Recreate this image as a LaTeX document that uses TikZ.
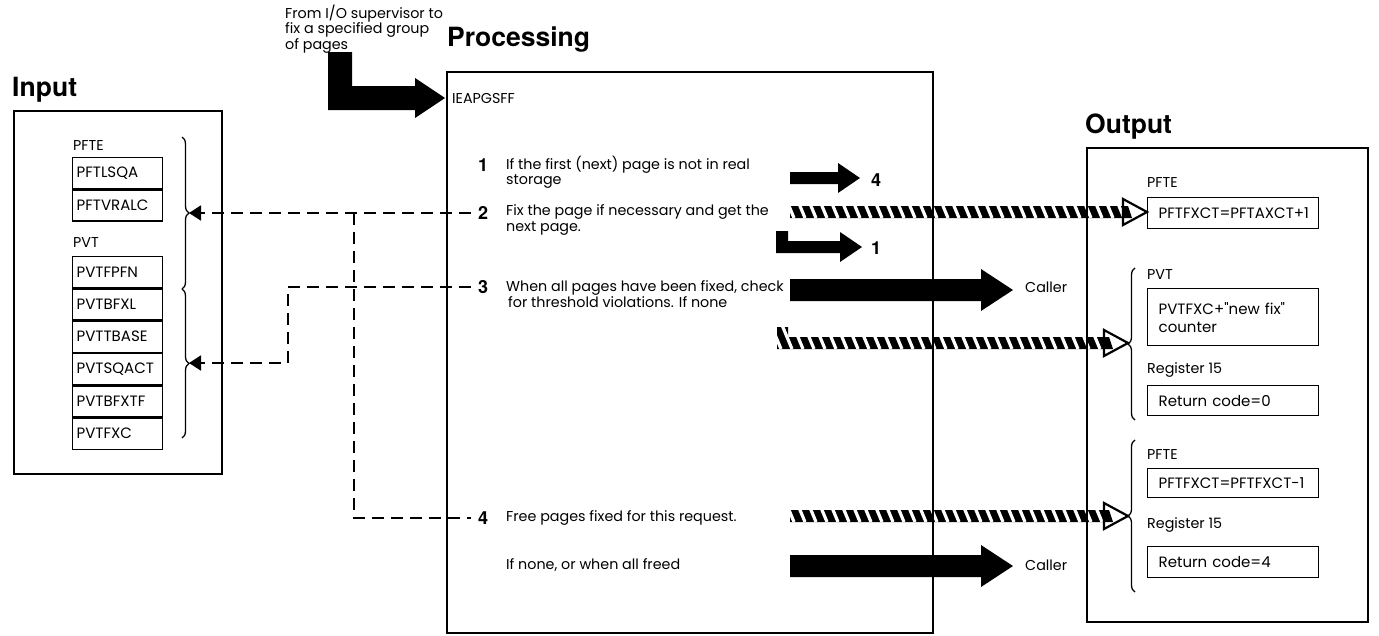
\documentclass[tikz,border=0pt]{standalone}
\usepackage{fontspec}
\setmainfont{Poppins}
\newfontfamily\heros{TeX Gyre Heros}
\newfontfamily\rawpoppins{Poppins}[Ligatures=TeXOff]
\usetikzlibrary{arrows.meta,decorations.pathreplacing}

% solid block arrow: start x, tip x, centre y, shaft thickness, head half-height, head length
\newcommand\blockarrow[6]{%
  \fill (#1,#3-#4/2) -- (#2-#6,#3-#4/2) -- (#2-#6,#3-#5) -- (#2,#3)
        -- (#2-#6,#3+#5) -- (#2-#6,#3+#4/2) -- (#1,#3+#4/2) -- cycle;}

% striped block arrow with open head: start x, tip x, centre y, height of the raised start
\newcommand\hatcharrow[4]{%
  \begin{scope}
    \clip (#1,#3-6-#4) -- (#1+11,#3-6-#4) -- (#1+11,#3-6) -- (#2-24,#3-6)
          -- (#2-24,#3+6) -- (#1,#3+6) -- cycle;
    \fill (#1-5,#3-40) rectangle (#2,#3+20);
    \foreach \k in {0,...,34}
      \draw[white, line width=3.2pt] (#1+4+11*\k-20,#3+6-48) -- (#1+4+11*\k,#3+6);
  \end{scope}
  \filldraw[fill=white, draw=black, line width=2.2pt, line join=miter]
    (#2-24,#3-13) -- (#2,#3) -- (#2-24,#3+13) -- cycle;
  \fill (#2-24,#3-6) -- (#2-19,#3-6) -- (#2-15,#3+6) -- (#2-24,#3+6) -- cycle;}

% straight double quote
\newcommand\dq{{\rawpoppins\char34}}

\begin{document}
\begin{tikzpicture}[x=1pt,y=-1pt,
  body/.style={font=\fontsize{14.3}{15.5}\selectfont, inner sep=0pt, align=left, anchor=west},
  title/.style={font=\heros\bfseries\fontsize{26.5}{30}\selectfont, inner sep=0pt, anchor=west},
  num/.style={font=\heros\bfseries\fontsize{18}{20}\selectfont, inner sep=0pt},
  frame/.style={draw, line width=2.4pt},
  infield/.style={draw, line width=1.3pt, anchor=north west, minimum height=31pt,
    text width=82pt, inner xsep=4pt, inner ysep=0pt, align=left,
    font=\fontsize{15}{16}\selectfont},
  outfield/.style={draw, line width=1.3pt, anchor=north west, minimum height=30pt,
    text width=149pt, inner xsep=11pt, inner ysep=0pt, align=left,
    font=\fontsize{15}{18}\selectfont},
  link/.style={line width=1.8pt, dash pattern=on 12pt off 7pt},
  linkarrow/.style={link, -{Triangle[length=12pt,width=15pt]}},
  brace/.style={decorate, decoration={brace, amplitude=7pt}, line width=1.3pt}
]
\useasboundingbox (0,0) rectangle (1379,635);

% ---------- titles ----------
\node[title] (tin)  at (12,90)   {Input};
\node[title] (tpro) at (447,40)  {Processing};
\node[title] (tout) at (1085,127) {Output};

% ---------- input fields ----------
\node[body] (lpfte) at (73,146) {PFTE};
\node[infield] (f1) at (72,157) {PFTLSQA};
\node[infield] (f2) at (f1.south west) {PFTVRALC};
\node[body] (lpvt) at (73,243) {PVT};
\node[infield] (g1) at (72,256) {PVTFPFN};
\node[infield] (g2) at (g1.south west) {PVTBFXL};
\node[infield] (g3) at (g2.south west) {PVTTBASE};
\node[infield] (g4) at (g3.south west) {PVTSQACT};
\node[infield] (g5) at (g4.south west) {PVTBFXTF};
\node[infield] (g6) at (g5.south west) {PVTFXC};

\draw[brace] (182,137) -- (182,289);
\draw[brace] (182,289) -- (182,438);
\coordinate (inA) at (189,213);
\coordinate (inB) at (189,363);

% ---------- processing ----------
\node[body] (note) at (285,29) {From I/O supervisor to\\fix a specified group\\of pages};
\fill (328,52) -- (352,52) -- (352,86) -- (415,86) -- (415,78) -- (445,98)
      -- (415,118) -- (415,110) -- (328,110) -- cycle;
\node[body] (ent) at (452,98) {IEAPGSFF};

\node[num] (n1) at (483,165) {1};
\node[body] (t1) at (506,172) {If the first (next) page is not in real\\storage};
\node[num] (n2) at (483,213) {2};
\node[body] (t2) at (506,220) {Fix the page if necessary and get the\\next page.};
\node[num] (n3) at (483,287) {3};
\node[body] (t3) at (506,294) {When all pages have been fixed, check\\\hspace*{2pt}for threshold violations. If none};
\node[num] (n4) at (483,518) {4};
\node[body] (t4) at (506,518) {Free pages fixed for this request.};
\node[body] (t5) at (506,565) {If none, or when all freed};

% branch arrows
\blockarrow{790}{860}{178}{12}{15}{22}
\node[num] (b4) at (876,180) {4};
\fill (776,231) -- (788,231) -- (788,241) -- (840,241) -- (840,232) -- (862,247)
      -- (840,262) -- (840,253) -- (776,253) -- cycle;
\node[num] (b1) at (876,248) {1};

\blockarrow{790}{1013}{290}{22}{21}{32}
\node[body] (c1) at (1025,287) {Caller};
\blockarrow{790}{1013}{566}{22}{21}{32}
\node[body] (c2) at (1025,565) {Caller};

% striped arrows into the output area
\hatcharrow{790}{1147}{212}{0}
\hatcharrow{777}{1128}{343}{10}
\hatcharrow{790}{1128}{516}{0}

% ---------- dashed links back to input ----------
\coordinate (d2) at (471,213);
\coordinate (d3) at (471,287);
\coordinate (d4) at (471,518);
\coordinate (j2) at (354,213);
\draw[linkarrow] (d2) -- (inA);
\draw[linkarrow] (d3) -- (288,287) -- (288,363) -- (inB);
\draw[link] (j2) -- (354,518) -- (d4);

% ---------- output fields ----------
\node[body] (opfte) at (1147,183) {PFTE};
\node[outfield, minimum height=31pt] (o1) at (1147,197) {PFTFXCT=PFTAXCT+1};
\node[body] (opvt) at (1147,275) {PVT};
\node[outfield, minimum height=57pt] (o2) at (1147,288) {PVTFXC+\dq new fix\dq\\counter};
\node[body] (oreg1) at (1147,370) {Register 15};
\node[outfield] (o3) at (1147,385) {Return code=0};
\node[body] (opfte2) at (1147,455) {PFTE};
\node[outfield, minimum height=29pt] (o4) at (1147,468) {PFTFXCT=PFTFXCT-1};
\node[body] (oreg2) at (1147,525) {Register 15};
\node[outfield, minimum height=31pt] (o5) at (1147,546) {Return code=4};

\draw[brace] (1135,420) -- (1135,268);
\draw[brace] (1135,592) -- (1135,440);

% ---------- frames ----------
\draw[frame] (14,111) rectangle (222,474);
\draw[frame] (447,72) rectangle (933,633);
\draw[frame] (1087,148) rectangle (1368,622);
\end{tikzpicture}
\end{document}
